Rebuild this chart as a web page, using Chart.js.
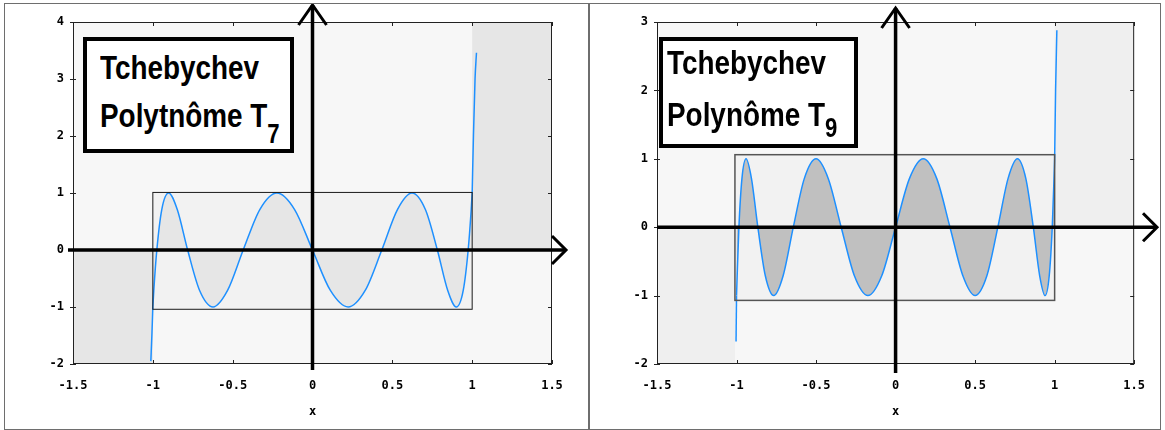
<!DOCTYPE html>
<html lang="fr">
<head>
<meta charset="UTF-8">
<title>Polynômes de Tchebychev T7 et T9</title>
<script src="https://cdn.jsdelivr.net/npm/chart.js"></script>
<style>
    body { margin:0; background:#fff; width:1165px; height:430px; position:relative; overflow:hidden; }
    .panel { position:absolute; box-sizing:border-box; border:1px solid #6e6e6e; background:#fff; }
    .panel canvas { position:absolute; left:0; top:0; }
    .titre { position:absolute; box-sizing:border-box; border:4px solid #000; background:#fff; }
    /* pas de police étroite installée : Liberation Sans compressée */
    .titre .txt { position:absolute; font-family:"Liberation Sans",Arial,sans-serif;
                  font-weight:bold; font-size:34px; color:#000; white-space:nowrap;
                  transform:scaleX(0.82); transform-origin:left top; }
    .titre .sub { position:relative; font-size:27px; }
</style>
</head>
<body>

<div class="panel" style="left:4px;top:3px;width:585px;height:427px"><canvas id="chartT7" width="583" height="424"></canvas></div>
<div class="panel" style="left:589px;top:3px;width:572px;height:427px"><canvas id="chartT9" width="570" height="424"></canvas></div>

<div class="titre" style="left:83px;top:37px;width:211px;height:116px">
    <div class="txt" style="left:13px;top:2px;line-height:48px">Tchebychev<br>Polytnôme T<span class="sub" style="top:16px">7</span></div>
</div>
<div class="titre" style="left:659px;top:37px;width:199px;height:111px">
    <div class="txt" style="left:4px;top:-5px;line-height:52px">Tchebychev<br>Polynôme T<span class="sub" style="top:11px">9</span></div>
</div>

<script>
// graduations
const xTicks = [-1.5, -1, -0.5, 0, 0.5, 1, 1.5];
const xTickLabels = ['-1.5', '-1', '-0.5', '0', '0.5', '1', '1.5'];
const yTicksT7 = [-2, -1, 0, 1, 2, 3, 4];
const yTicksT9 = [-2, -1, 0, 1, 2, 3];

// T7 sur [-1, 1]
const t7X = [-1, -0.994, -0.975, -0.944, -0.901, -0.847, -0.782, -0.707, -0.623, -0.532, -0.434, -0.330, -0.223, -0.112, 0,
             0.112, 0.223, 0.330, 0.434, 0.532, 0.623, 0.707, 0.782, 0.847, 0.901, 0.944, 0.975, 0.994, 1];
const t7Y = [-1, -0.71, 0, 0.71, 1, 0.71, 0, -0.71, -1, -0.71, 0, 0.71, 1, 0.71, 0,
             -0.71, -1, -0.71, 0, 0.71, 1, 0.71, 0, -0.71, -1, -0.71, 0, 0.71, 1];
// branches hors de [-1, 1]
const t7LeftX = [-1.0125, -1.006, -1];
const t7LeftY = [-1.95, -1.5, -1];
const t7RightX = [1, 1.008, 1.018, 1.027];
const t7RightY = [1, 2, 3, 3.46];

// T9 sur [-1, 1]
const t9X = [-1, -0.996, -0.985, -0.966, -0.940, -0.906, -0.866, -0.819, -0.766, -0.707, -0.643, -0.574, -0.5, -0.423,
             -0.342, -0.259, -0.174, -0.087, 0, 0.087, 0.174, 0.259, 0.342, 0.423, 0.5, 0.574, 0.643, 0.707, 0.766,
             0.819, 0.866, 0.906, 0.940, 0.966, 0.985, 0.996, 1];
const t9Y = [-1, -0.71, 0, 0.71, 1, 0.71, 0, -0.71, -1, -0.71, 0, 0.71, 1, 0.71,
             0, -0.71, -1, -0.71, 0, 0.71, 1, 0.71, 0, -0.71, -1, -0.71, 0, 0.71, 1,
             0.71, 0, -0.71, -1, -0.71, 0, 0.71, 1];
const t9LeftX = [-1.003, -1];
const t9LeftY = [-1.67, -1];
const t9RightX = [1, 1.006, 1.014];
const t9RightY = [1, 2, 2.88];

// zones grisées [x0, x1, y0, y1] et cadre [-1,1]
const t7Shade = [[-1.5, -1, -2, 0], [1, 1.5, 0, 4]];
const t7Box = [-1, 1, -1.04, 1.01];
const t9Shade = [[-1.5, -1.01, -2, 0], [1, 1.5, 0, 3]];
const t9Box = [-1.01, 1, -1.07, 1.06];

const tickFont = { family: 'DejaVu Sans Mono', weight: 'bold', size: 12 };
const blue = '#1e90ff';

function pts(xs, ys) {
    return xs.map((x, i) => ({ x: x, y: ys[i] }));
}

// fond, zones grisées, cadre, axes fléchés, graduations intérieures
function makeDecor(cfg) {
    return {
        id: 'decor',
        beforeDatasetsDraw(chart) {
            const { ctx, chartArea: a, scales: { x, y } } = chart;
            ctx.save();
            ctx.fillStyle = '#f7f7f7';
            ctx.fillRect(a.left, a.top, a.width, a.height);
            ctx.fillStyle = cfg.shadeColor;
            cfg.shade.forEach(r => {
                const px0 = x.getPixelForValue(r[0]), px1 = x.getPixelForValue(r[1]);
                const py0 = y.getPixelForValue(r[2]), py1 = y.getPixelForValue(r[3]);
                ctx.fillRect(px0, py1, px1 - px0, py0 - py1);
            });
            const b = cfg.box;
            const bx0 = x.getPixelForValue(b[0]), bx1 = x.getPixelForValue(b[1]);
            const by0 = y.getPixelForValue(b[2]), by1 = y.getPixelForValue(b[3]);
            ctx.fillStyle = '#f2f2f2';
            ctx.fillRect(bx0, by1, bx1 - bx0, by0 - by1);
            ctx.restore();
        },
        afterDatasetsDraw(chart) {
            const { ctx, chartArea: a, scales: { x, y } } = chart;
            ctx.save();
            // cadre [-1,1]
            const b = cfg.box;
            const bx0 = x.getPixelForValue(b[0]), bx1 = x.getPixelForValue(b[1]);
            const by0 = y.getPixelForValue(b[2]), by1 = y.getPixelForValue(b[3]);
            ctx.strokeStyle = cfg.boxColor;
            ctx.lineWidth = cfg.boxWidth;
            ctx.strokeRect(bx0, by1, bx1 - bx0, by0 - by1);

            // bord du graphe + petites graduations
            ctx.strokeStyle = '#222';
            ctx.lineWidth = 1;
            ctx.strokeRect(a.left + 0.5, a.top + 0.5, a.width - 1, a.height - 1);
            ctx.beginPath();
            xTicks.forEach(v => {
                const px = Math.round(x.getPixelForValue(v)) + 0.5;
                ctx.moveTo(px, a.bottom); ctx.lineTo(px, a.bottom - 4);
                ctx.moveTo(px, a.top); ctx.lineTo(px, a.top + 4);
            });
            cfg.yTicks.forEach(v => {
                const py = Math.round(y.getPixelForValue(v)) + 0.5;
                ctx.moveTo(a.left - 3, py); ctx.lineTo(a.left + 3, py);
                ctx.moveTo(a.right, py); ctx.lineTo(a.right - 4, py);
            });
            ctx.stroke();

            // axes fléchés
            const ox = x.getPixelForValue(0), oy = y.getPixelForValue(0);
            ctx.strokeStyle = '#000';
            ctx.lineWidth = 3.5;
            ctx.lineJoin = 'miter';
            ctx.beginPath();
            ctx.moveTo(a.left + cfg.hStart, oy); ctx.lineTo(cfg.hEnd, oy);
            ctx.moveTo(ox, a.bottom + cfg.vBelow); ctx.lineTo(ox, cfg.vTop);
            ctx.stroke();
            ctx.lineWidth = 3;
            ctx.beginPath();
            ctx.moveTo(ox - 14, cfg.vTop + 20); ctx.lineTo(ox, cfg.vTop); ctx.lineTo(ox + 14, cfg.vTop + 20);
            ctx.moveTo(cfg.hEnd - 14, oy - 14); ctx.lineTo(cfg.hEnd, oy); ctx.lineTo(cfg.hEnd - 14, oy + 14);
            ctx.stroke();
            ctx.restore();
        }
    };
}

function buildChart(id, p) {
    return new Chart(document.getElementById(id), {
        type: 'line',
        data: {
            datasets: [
                {
                    data: pts(p.xs, p.ys),
                    borderColor: blue, borderWidth: 1.5, pointRadius: 0,
                    fill: 'origin', backgroundColor: p.fillColor,
                    cubicInterpolationMode: 'monotone'
                },
                {
                    data: pts(p.leftX, p.leftY),
                    borderColor: blue, borderWidth: 1.5, pointRadius: 0, fill: false,
                    cubicInterpolationMode: 'monotone'
                },
                {
                    data: pts(p.rightX, p.rightY),
                    borderColor: blue, borderWidth: 1.5, pointRadius: 0, fill: false,
                    cubicInterpolationMode: 'monotone'
                }
            ]
        },
        options: {
            responsive: false,
            animation: false,
            devicePixelRatio: 1,
            layout: { padding: { top: 18, right: p.padRight, bottom: 4, left: 0 } },
            plugins: { legend: { display: false }, tooltip: { enabled: false } },
            scales: {
                x: {
                    type: 'linear', min: -1.5, max: 1.5,
                    grid: { display: false, drawTicks: false },
                    border: { display: false },
                    afterBuildTicks: s => { s.ticks = xTicks.map(v => ({ value: v })); },
                    afterFit: s => { s.height = 60; },
                    ticks: {
                        padding: 15, color: '#000', font: tickFont, maxRotation: 0, autoSkip: false,
                        callback: (v, i) => xTickLabels[i]
                    },
                    title: { display: true, text: 'x', color: '#000', font: tickFont, padding: { top: 5, bottom: 5 } }
                },
                y: {
                    type: 'linear', min: p.yTicks[0], max: p.yTicks[p.yTicks.length - 1],
                    grid: { display: false, drawTicks: false },
                    border: { display: false },
                    afterBuildTicks: s => { s.ticks = p.yTicks.map(v => ({ value: v })); },
                    afterFit: s => { s.width = p.yWidth; },
                    ticks: {
                        padding: 9, color: '#000', font: tickFont, autoSkip: false,
                        callback: (v, i) => String(p.yTicks[i])
                    }
                }
            }
        },
        plugins: [makeDecor(p)]
    });
}

buildChart('chartT7', {
    xs: t7X, ys: t7Y, leftX: t7LeftX, leftY: t7LeftY, rightX: t7RightX, rightY: t7RightY,
    yTicks: yTicksT7, fillColor: '#e6e6e6', shade: t7Shade, shadeColor: '#e6e6e6',
    box: t7Box, boxColor: '#1a1a1a', boxWidth: 1,
    padRight: 36, yWidth: 68, hStart: -5, hEnd: 561, vBelow: 6, vTop: 1
});

buildChart('chartT9', {
    xs: t9X, ys: t9Y, leftX: t9LeftX, leftY: t9LeftY, rightX: t9RightX, rightY: t9RightY,
    yTicks: yTicksT9, fillColor: '#c0c0c0', shade: t9Shade, shadeColor: '#efefef',
    box: t9Box, boxColor: '#555', boxWidth: 1.5,
    padRight: 23, yWidth: 67, hStart: 0, hEnd: 567, vBelow: 9, vTop: 4
});
</script>

</body>
</html>
